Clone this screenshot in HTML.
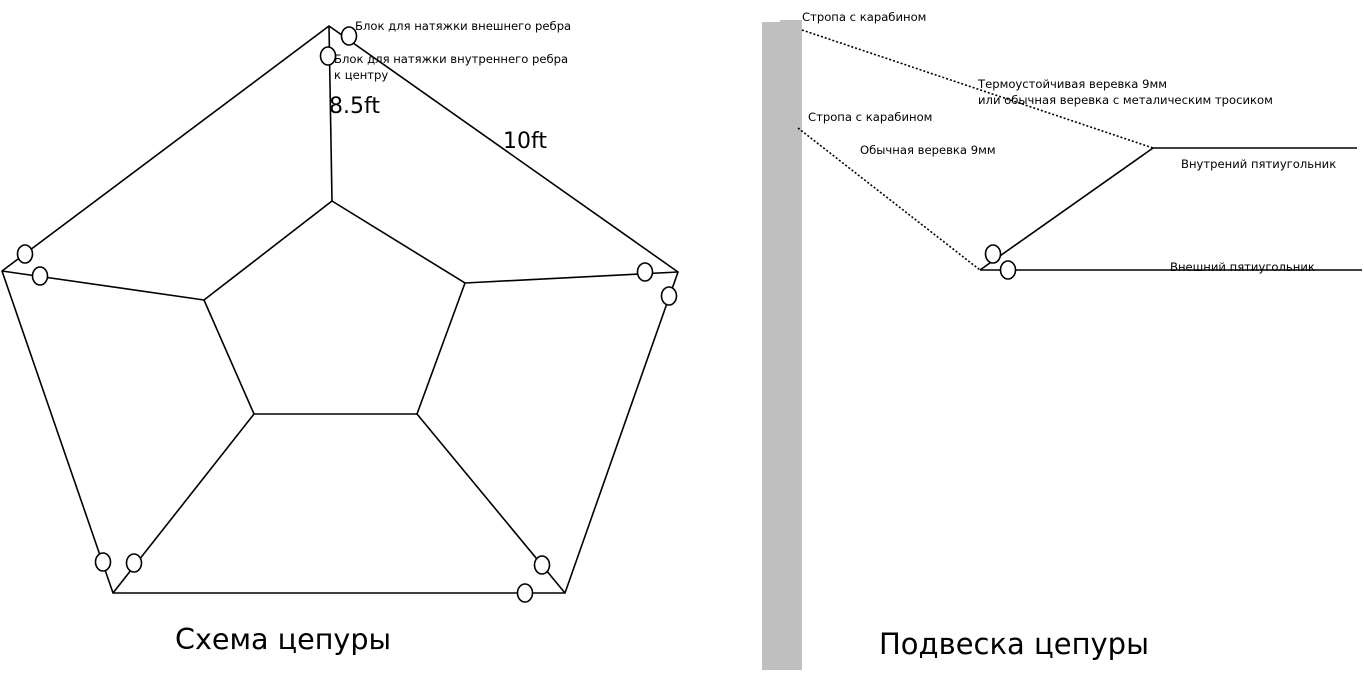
<!DOCTYPE html>
<html><head><meta charset="utf-8"><style>
html,body{margin:0;padding:0;background:#fff;}
svg{display:block;}
text{font-family:"DejaVu Sans","Liberation Sans","Noto Sans CJK SC",sans-serif;fill:#000;}
</style></head><body>
<svg width="1364" height="692" viewBox="0 0 1364 692" xmlns="http://www.w3.org/2000/svg">
<g stroke="#000" stroke-width="1.6" fill="none">
<polygon points="329,26 678,272 565,593 113,593 2,271"/>
<polygon points="332,201 465,283 417,414 254,414 204,300"/>
<line x1="329" y1="26" x2="332" y2="201"/>
<line x1="678" y1="272" x2="465" y2="283"/>
<line x1="2" y1="271" x2="204" y2="300"/>
<line x1="113" y1="593" x2="254" y2="414"/>
<line x1="565" y1="593" x2="417" y2="414"/>
</g>
<g stroke="#000" stroke-width="1.6" fill="#fff">
<ellipse cx="349" cy="36" rx="7.5" ry="9"/>
<ellipse cx="328" cy="56" rx="7.5" ry="9"/>
<ellipse cx="25" cy="254" rx="7.5" ry="9"/>
<ellipse cx="40" cy="276" rx="7.5" ry="9"/>
<ellipse cx="645" cy="272" rx="7.5" ry="9"/>
<ellipse cx="669" cy="296" rx="7.5" ry="9"/>
<ellipse cx="103" cy="562" rx="7.5" ry="9"/>
<ellipse cx="134" cy="563" rx="7.5" ry="9"/>
<ellipse cx="542" cy="565" rx="7.5" ry="9"/>
<ellipse cx="525" cy="593" rx="7.5" ry="9"/>
</g>
<text x="355" y="30" font-size="11.6">Блок для натяжки внешнего ребра</text>
<text x="334" y="63" font-size="11.6">Блок для натяжки внутреннего ребра</text>
<text x="334" y="79" font-size="11.6">к центру</text>
<text x="329" y="113" font-size="22">8.5ft</text>
<text x="503" y="148" font-size="22">10ft</text>
<text x="175" y="649" font-size="28.6">Схема цепуры</text>

<rect x="762" y="22" width="40" height="648" fill="#bfbfbf"/>
<rect x="780" y="20" width="22" height="4" fill="#bfbfbf"/>
<g stroke="#000" stroke-width="1.6" fill="none">
<line x1="802" y1="30" x2="1153" y2="148" stroke-dasharray="2,2"/>
<line x1="798" y1="128" x2="980" y2="270" stroke-dasharray="2,2"/>
<line x1="1153" y1="148" x2="1357" y2="148"/>
<line x1="980" y1="270" x2="1153" y2="148"/>
<line x1="980" y1="270" x2="1362" y2="270"/>
</g>
<g stroke="#000" stroke-width="1.6" fill="#fff">
<ellipse cx="993" cy="254" rx="7.5" ry="9"/>
<ellipse cx="1008" cy="270" rx="7.5" ry="9"/>
</g>
<text x="802" y="21" font-size="11.6">Стропа с карабином</text>
<text x="978" y="88" font-size="11.6">Термоустойчивая веревка 9мм</text>
<text x="978" y="104" font-size="11.6">или обычная веревка с металическим тросиком</text>
<text x="808" y="121" font-size="11.6">Стропа с карабином</text>
<text x="860" y="154" font-size="11.6">Обычная веревка 9мм</text>
<text x="1181" y="168" font-size="11.6">Внутрений пятиугольник</text>
<text x="1170" y="271" font-size="11.6">Внешний пятиугольник</text>
<text x="879" y="654" font-size="29">Подвеска цепуры</text>
</svg>
</body></html>
